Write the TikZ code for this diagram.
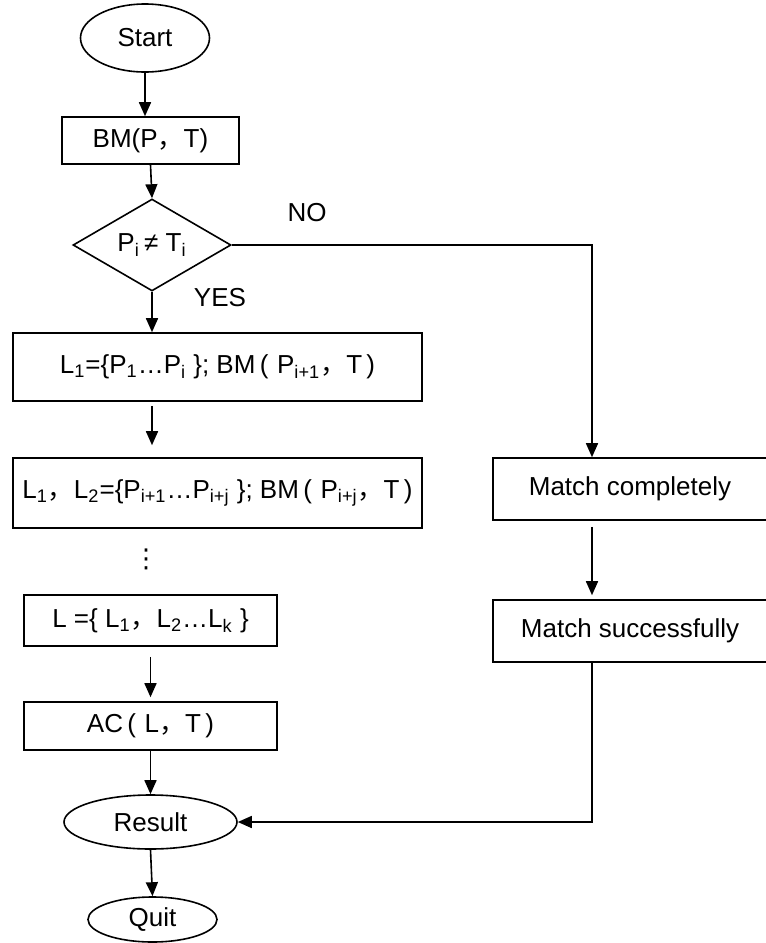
\documentclass[tikz,border=0pt]{standalone}
\usepackage{fontspec}
\setmainfont{Liberation Sans}
\newfontfamily\cjk{Noto Sans CJK SC}
\newfontfamily\symfont{DejaVu Sans}
\usepackage{tikz}
\usetikzlibrary{arrows.meta, positioning, shapes.geometric}

\newcommand{\sub}[1]{\textsubscript{#1}}
\newcommand{\fwcomma}{{\cjk ，}}
\newcommand{\fwlparen}{\,(\,\,}
\newcommand{\fwrparen}{\,)}

\begin{document}
\begin{tikzpicture}[
  x=0.5pt, y=-0.5pt,
  block/.style={rectangle, draw, line width=0.8pt, inner sep=0pt, align=center, font=\fontsize{13}{15}\selectfont},
  term/.style={ellipse, draw, line width=0.8pt, inner sep=0pt, font=\fontsize{13}{15}\selectfont},
  decision/.style={diamond, draw, line width=0.8pt, inner sep=0pt, font=\fontsize{13}{15}\selectfont},
  lbl/.style={font=\fontsize{13}{15}\selectfont},
  >={Triangle[length=7pt, width=6pt]}
]
\useasboundingbox (0,0) rectangle (766,943);

\node[term, minimum width=64.5pt, minimum height=34pt] (start) at (145,38) {Start};
\node[block, minimum width=88.5pt, minimum height=23.5pt] (bm) at (150.5,140.5) {BM(P\fwcomma T)};
\node[decision, minimum width=79pt, minimum height=39pt] (cmp) at (152,245) {P\sub{i}\,≠ T\sub{i}};
\node[block, minimum width=204.5pt, minimum height=34pt] (lone) at (217.5,367) {L\sub{1}=\{P\sub{1}…P\sub{i} \}; BM\fwlparen P\sub{i+1}\fwcomma T\fwrparen};
\node[block, minimum width=204.5pt, minimum height=35pt] (ltwo) at (217.5,493) {L\sub{1}\fwcomma L\sub{2}=\{P\sub{i+1}…P\sub{i+j} \}; BM\fwlparen P\sub{i+j}\fwcomma T\fwrparen};
\node[lbl] (dots) at (146,559) {\symfont ⋮};
\node[block, minimum width=126.5pt, minimum height=25.5pt] (lall) at (150.5,620.5) {L =\{ L\sub{1}\fwcomma L\sub{2}…L\sub{k} \}};
\node[block, minimum width=126.5pt, minimum height=24pt] (ac) at (150.5,726) {AC\fwlparen L\fwcomma T\fwrparen};
\node[term, minimum width=86.5pt, minimum height=27pt] (result) at (150.5,822) {Result};
\node[term, minimum width=64.5pt, minimum height=22.5pt] (quit) at (152.5,919.5) {Quit};

\node[block, minimum width=137pt, minimum height=31pt] (mcomp) at (630,489) {Match completely};
\node[block, minimum width=137pt, minimum height=31pt] (msucc) at (630,631) {Match successfully};

\node[lbl] (no) at (307,213) {NO};
\node[lbl] (yes) at (220,298) {YES};

\coordinate (corner) at (592,245);

\draw[->, line width=0.8pt] (start.south) -- (start.south |- bm.north);
\draw[->, line width=0.8pt] (bm.south) -- (cmp.north);
\draw[->, line width=0.8pt] (cmp.south) -- (cmp.south |- lone.north);
\draw[->, line width=0.8pt, shorten <=2pt, shorten >=6pt] (lone.south -| cmp) -- (ltwo.north -| cmp);
\draw[->, line width=0.8pt, shorten <=5pt, shorten >=2pt] (lall.south) -- (ac.north);
\draw[->, line width=0.8pt] (ac.south) -- (result.north);
\draw[->, line width=0.8pt] (result.south) -- (quit.north);

\draw[->, line width=0.8pt] (cmp.east) -- (corner) -- (corner |- mcomp.north);
\draw[->, line width=0.8pt, shorten <=3pt, shorten >=2pt] (mcomp.south -| corner) -- (msucc.north -| corner);
\draw[->, line width=0.8pt] (msucc.south -| corner) |- (result.east);
\end{tikzpicture}
\end{document}
